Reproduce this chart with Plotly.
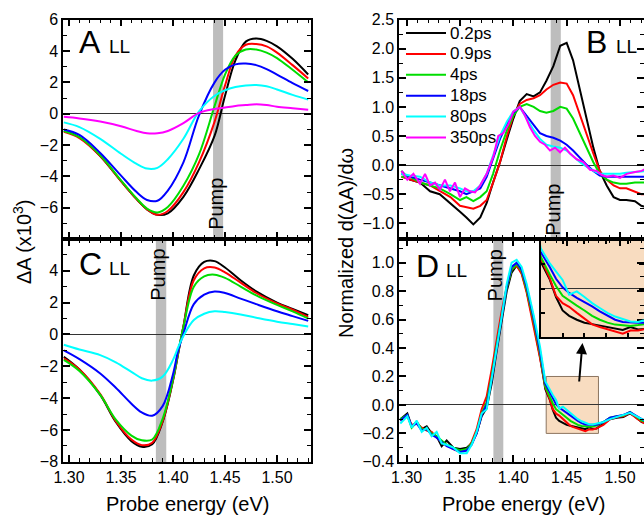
import plotly.graph_objects as go

FONT = "Liberation Sans, Arial, sans-serif"
W, H = 644, 515

COLORS = ["#000000", "#FF0000", "#00DD00", "#0000FF", "#00FFFF", "#FF00FF"]
DELAYS = ["0.2ps", "0.9ps", "4ps", "18ps", "80ps", "350ps"]

# ---------------- Panel A : ΔA (x10^3), top-left ----------------
E_A = [1.295, 1.31, 1.33, 1.35, 1.365, 1.375, 1.385, 1.395, 1.41, 1.425, 1.44, 1.45,
       1.46, 1.47, 1.48, 1.49, 1.50, 1.515, 1.53]
A_02 = [-1.1, -1.5, -2.7, -4.3, -5.45, -6.1, -6.45, -6.35, -5.3, -3.55, -1.4, 1.15, 3.4, 4.6, 4.8, 4.65, 4.3, 3.5, 2.5]
A_09 = [-1.15, -1.55, -2.7, -4.3, -5.45, -6.1, -6.45, -6.2, -5.0, -3.1, -0.5, 1.8, 3.7, 4.4, 4.45, 4.3, 3.9, 3.1, 2.25]
A_4 = [-1.1, -1.5, -2.65, -4.25, -5.4, -6.05, -6.3, -5.95, -4.6, -2.6, 0.5, 2.5, 3.7, 4.1, 4.1, 3.9, 3.55, 2.8, 2.0]
A_18 = [-1.0, -1.35, -2.5, -3.95, -5.0, -5.5, -5.55, -4.9, -3.1, -0.1, 2.0, 2.8, 3.15, 3.2, 3.1, 2.85, 2.5, 1.95, 1.45]
A_80 = [-0.55, -0.85, -1.6, -2.55, -3.2, -3.5, -3.45, -2.9, -1.6, 0.15, 1.15, 1.5, 1.7, 1.8, 1.83, 1.75, 1.55, 1.2, 0.9]
A_350 = [-0.2, -0.3, -0.5, -0.8, -1.1, -1.25, -1.25, -1.1, -0.6, 0.05, 0.3, 0.4, 0.5, 0.55, 0.6, 0.55, 0.45, 0.35, 0.25]

# ---------------- Panel C : ΔA (x10^3), bottom-left ----------------
E_C = [1.295, 1.31, 1.33, 1.345, 1.36, 1.37, 1.38, 1.39, 1.40, 1.405, 1.41, 1.42, 1.43,
       1.44, 1.45, 1.465, 1.48, 1.50, 1.515, 1.53]
C_02 = [-1.4, -2.2, -3.8, -5.5, -6.7, -7.05, -6.9, -5.5, -2.9, -1.2, 0.5, 3.7, 4.55, 4.6, 4.2, 3.4, 2.7, 2.0, 1.6, 1.2]
C_09 = [-1.5, -2.2, -3.75, -5.45, -6.6, -6.95, -6.8, -5.45, -2.85, -1.15, 0.5, 3.4, 4.15, 4.2, 3.9, 3.25, 2.6, 1.95, 1.55, 1.1]
C_4 = [-1.6, -2.3, -3.8, -5.35, -6.35, -6.65, -6.6, -5.3, -2.8, -1.1, 0.45, 3.0, 3.65, 3.75, 3.55, 3.0, 2.45, 1.85, 1.45, 1.0]
C_18 = [-1.0, -1.55, -2.45, -3.35, -4.35, -4.9, -5.1, -4.5, -2.5, -1.0, 0.05, 1.9, 2.5, 2.7, 2.6, 2.25, 1.9, 1.45, 1.15, 0.85]
C_80 = [-0.65, -0.95, -1.3, -1.75, -2.35, -2.75, -2.9, -2.65, -1.6, -0.8, -0.1, 0.9, 1.3, 1.45, 1.4, 1.25, 1.05, 0.8, 0.65, 0.5]

# ---------------- Panel B : normalized derivative, top-right ----------------
E_B = [1.295, 1.303, 1.3125, 1.322, 1.331, 1.341, 1.35, 1.356, 1.3625, 1.369, 1.375, 1.381,
       1.3875, 1.394, 1.40, 1.406, 1.4125, 1.419, 1.425, 1.431, 1.4375, 1.444, 1.45, 1.456,
       1.4625, 1.469, 1.475, 1.481, 1.4875, 1.494, 1.50, 1.506, 1.514, 1.52, 1.525]
B_02 = [-0.1, -0.25, -0.3, -0.45, -0.5, -0.65, -0.8, -0.9, -1.02, -0.9, -0.65, -0.3, 0.05, 0.45, 0.8, 1.1,
        1.22, 1.18, 1.25, 1.45, 1.7, 2.05, 2.1, 1.8, 1.3, 0.75, 0.3, -0.1, -0.35, -0.55, -0.6, -0.6, -0.62, -0.7, -0.72]
B_09 = [-0.2, -0.25, -0.3, -0.35, -0.45, -0.55, -0.7, -0.72, -0.75, -0.7, -0.6, -0.3, 0.05, 0.5, 0.85, 1.05,
        1.12, 1.15, 1.2, 1.3, 1.38, 1.42, 1.4, 1.2, 0.85, 0.5, 0.2, -0.1, -0.25, -0.35, -0.4, -0.4, -0.45, -0.5, -0.5]
B_4 = [-0.2, -0.2, -0.3, -0.35, -0.4, -0.5, -0.6, -0.55, -0.62, -0.55, -0.45, -0.15, 0.25, 0.6, 0.85, 1.0,
       1.05, 1.0, 0.93, 0.9, 0.93, 1.0, 0.97, 0.8, 0.55, 0.3, 0.05, -0.15, -0.25, -0.3, -0.32, -0.32, -0.3, -0.3, -0.3]
B_18 = [-0.15, -0.2, -0.25, -0.3, -0.35, -0.4, -0.45, -0.5, -0.45, -0.4, -0.2, 0.1, 0.45, 0.7, 0.9, 1.0,
        0.85, 0.7, 0.55, 0.5, 0.47, 0.42, 0.35, 0.25, 0.12, 0.0, -0.1, -0.18, -0.2, -0.2, -0.2, -0.2, -0.2, -0.2, -0.2]
B_80 = [-0.15, -0.18, -0.2, -0.3, -0.35, -0.35, -0.4, -0.45, -0.45, -0.35, -0.15, 0.15, 0.5, 0.75, 0.92, 1.0,
        0.8, 0.6, 0.45, 0.35, 0.32, 0.3, 0.25, 0.15, 0.05, -0.03, -0.1, -0.15, -0.15, -0.15, -0.15, -0.13, -0.12, -0.1, -0.1]
E_B350 = [1.2953, 1.3006, 1.3063, 1.3125, 1.3172, 1.3219, 1.3266, 1.3313, 1.3359, 1.3406, 1.3453, 1.35,
          1.3547, 1.3594, 1.3641, 1.3688, 1.375, 1.3813, 1.3859, 1.3906, 1.3953, 1.40, 1.4063, 1.4109,
          1.4156, 1.4203, 1.425, 1.4297, 1.4344, 1.4391, 1.4438, 1.4484, 1.4531, 1.4594, 1.4656, 1.4719,
          1.4781, 1.4828, 1.4875, 1.4938, 1.50, 1.5063, 1.5141, 1.5203, 1.525]
B_350 = [-0.1, -0.25, -0.15, -0.32, -0.15, -0.35, -0.3, -0.42, -0.25, -0.45, -0.3, -0.55, -0.4, -0.45, -0.47,
         -0.35, -0.15, 0.15, 0.5, 0.55, 0.7, 0.92, 1.0, 0.85, 0.65, 0.5, 0.4, 0.35, 0.25, 0.3, 0.22, 0.3,
         0.2, 0.1, 0.05, -0.08, -0.1, -0.17, -0.2, -0.18, -0.22, -0.15, -0.12, -0.1, -0.05]

# ---------------- Panel D : normalized derivative, bottom-right ----------------
E_D = [1.294, 1.3006, 1.3047, 1.3094, 1.3141, 1.3188, 1.3234, 1.3281, 1.3328, 1.3375, 1.3438, 1.35,
       1.3563, 1.3609, 1.3656, 1.3703,
       1.375, 1.3797, 1.3844, 1.3891, 1.3938, 1.3984, 1.4031, 1.4078, 1.4125, 1.4188, 1.425,
       1.43, 1.434, 1.437, 1.44, 1.443, 1.4465, 1.45, 1.4535, 1.457, 1.4605, 1.464, 1.4675, 1.471, 1.4745, 1.478,
       1.4844, 1.4906, 1.4969, 1.5031, 1.5094, 1.5156, 1.5203, 1.525]
D_02 = [-0.1, -0.06, -0.15, -0.12, -0.17, -0.15, -0.2, -0.22, -0.29, -0.25, -0.3, -0.31, -0.3, -0.27, -0.2, -0.08,
        -0.02, 0.15, 0.38, 0.6, 0.8, 0.93, 0.98, 0.93, 0.8, 0.58, 0.34,
        0.11, 0.04, -0.035, -0.09, -0.112, -0.128, -0.14, -0.146, -0.152, -0.158, -0.165, -0.17, -0.158, -0.168, -0.165,
        -0.13, -0.1, -0.09, -0.085, -0.06, -0.09, -0.12, -0.13]
D_09 = [-0.11, -0.08, -0.14, -0.13, -0.16, -0.18, -0.19, -0.23, -0.26, -0.28, -0.31, -0.33, -0.32, -0.26, -0.17, -0.03,
        0.06, 0.25, 0.46, 0.66, 0.83, 0.95, 0.98, 0.92, 0.79, 0.57, 0.33,
        0.125, 0.045, -0.03, -0.06, -0.075, -0.1, -0.125, -0.147, -0.158, -0.167, -0.176, -0.185, -0.172, -0.172, -0.165,
        -0.14, -0.1, -0.085, -0.08, -0.055, -0.095, -0.12, -0.14]
D_4 = [-0.1, -0.07, -0.16, -0.12, -0.17, -0.17, -0.2, -0.22, -0.25, -0.28, -0.3, -0.32, -0.31, -0.27, -0.19, -0.06,
       0.02, 0.2, 0.42, 0.63, 0.82, 0.95, 0.99, 0.94, 0.81, 0.6, 0.36,
       0.13, 0.06, 0.01, -0.03, -0.05, -0.07, -0.09, -0.112, -0.128, -0.14, -0.148, -0.152, -0.154, -0.15, -0.145,
       -0.12, -0.09, -0.08, -0.075, -0.05, -0.085, -0.11, -0.12]
D_18 = [-0.11, -0.07, -0.15, -0.13, -0.18, -0.17, -0.21, -0.23, -0.26, -0.29, -0.31, -0.33, -0.32, -0.28, -0.2, -0.07,
        0.0, 0.18, 0.4, 0.62, 0.83, 0.97, 1.0, 0.95, 0.83, 0.62, 0.38,
        0.15, 0.09, 0.04, 0.005, -0.018, -0.038, -0.055, -0.073, -0.094, -0.112, -0.128, -0.137, -0.14, -0.14, -0.14,
        -0.12, -0.09, -0.08, -0.07, -0.05, -0.08, -0.1, -0.12]
D_80 = [-0.13, -0.08, -0.16, -0.11, -0.19, -0.16, -0.22, -0.19, -0.27, -0.28, -0.3, -0.34, -0.34, -0.28, -0.19, -0.06,
        -0.03, 0.17, 0.4, 0.62, 0.85, 1.0, 1.02, 0.97, 0.85, 0.64, 0.41,
        0.165, 0.105, 0.07, 0.035, -0.025, -0.012, -0.035, -0.06, -0.08, -0.1, -0.115, -0.125, -0.135, -0.137, -0.13,
        -0.12, -0.1, -0.085, -0.07, -0.055, -0.08, -0.1, -0.11]

# pump bands (eV)
PUMP_A = (1.4385, 1.4482)
PUMP_B = (1.4350, 1.4445)
PUMP_C = (1.3835, 1.3935)
PUMP_D = (1.3813, 1.3906)

# ---------------- figure ----------------
fig = go.Figure()


def add_set(E, series, xa, ya, shape="linear"):
    for i, ys in enumerate(series):
        Ei = E[i] if isinstance(E[0], list) else E
        fig.add_trace(go.Scatter(
            x=Ei, y=ys, xaxis=xa, yaxis=ya, mode="lines",
            line=dict(color=COLORS[i], width=2, shape=shape, smoothing=1.0 if shape == "spline" else None),
            name=DELAYS[i], showlegend=False, hoverinfo="skip"))


add_set(E_A, [A_02, A_09, A_4, A_18, A_80, A_350], "x", "y", shape="spline")
add_set([E_B] * 5 + [E_B350], [B_02, B_09, B_4, B_18, B_80, B_350], "x2", "y2")
add_set(E_C, [C_02, C_09, C_4, C_18, C_80], "x3", "y3", shape="spline")
add_set(E_D, [D_02, D_09, D_4, D_18, D_80], "x4", "y4")
add_set(E_D, [D_02, D_09, D_4, D_18, D_80], "x5", "y5")

LX = [63 / W, 311 / W]
RX = [399 / W, 1.0]
TOPY = [1 - 239 / H, 1 - 19.5 / H]
BOTY = [1 - 462 / H, 1 - 239 / H]
INX = [540.7 / W, 1.0]
INY = [1 - 337.3 / H, 1 - 239.7 / H]


def axis(domain, rng, dtick, mdtick, anchor, labels, fmt, tick0=0.0, zero=False, ticklen=7, minor=True):
    d = dict(domain=domain, range=rng, anchor=anchor, automargin=False, showline=True, linecolor="black",
             linewidth=1.5, mirror="ticks", ticks="inside", ticklen=ticklen, tickwidth=1.5,
             tickcolor="black", tickmode="linear", tick0=tick0, dtick=dtick, showgrid=False,
             zeroline=zero, zerolinecolor="#333333", zerolinewidth=1,
             showticklabels=labels, tickformat=fmt,
             tickfont=dict(family=FONT, size=16, color="black"))
    if minor:
        d["minor"] = dict(ticks="inside", ticklen=4, tickwidth=1.2, tickcolor="black",
                          dtick=mdtick, tick0=tick0, showgrid=False)
    return d


XL_RANGE = [1.2942, 1.5327]
XR_RANGE = [1.2928, 1.5225]

fig.update_layout(
    template="none",
    width=W, height=H, autosize=False,
    margin=dict(l=0, r=0, t=0, b=0, pad=0, autoexpand=False),
    paper_bgcolor="white", plot_bgcolor="rgba(0,0,0,0)",
    showlegend=False,
    xaxis=axis(LX, XL_RANGE, 0.05, 0.01, "y", False, ".2f", tick0=1.3),
    yaxis=axis(TOPY, [-7.99, 6.01], 2, 1, "x", True, "d", zero=True),
    xaxis2=axis(RX, XR_RANGE, 0.05, 0.01, "y2", False, ".2f", tick0=1.3),
    yaxis2=axis(TOPY, [-1.27, 2.502], 0.5, 0.25, "x2", True, ".1f", zero=True),
    xaxis3=axis(LX, XL_RANGE, 0.05, 0.01, "y3", True, ".2f", tick0=1.3),
    yaxis3=axis(BOTY, [-8.01, 5.99], 2, 1, "x3", True, "d", zero=True),
    xaxis4=axis(RX, XR_RANGE, 0.05, 0.01, "y4", True, ".2f", tick0=1.3),
    yaxis4=axis(BOTY, [-0.401, 1.166], 0.2, 0.1, "x4", True, ".1f", zero=True),
    xaxis5=axis(INX, [1.43, 1.4772], 0.01, None, "y5", False, ".2f", tick0=1.3, ticklen=5, minor=False),
    yaxis5=axis(INY, [-0.2, 0.2], 0.1, None, "x5", False, ".1f", zero=True, ticklen=5, minor=False),
    font=dict(family=FONT, color="black"),
)

GREY = "#BDBDBD"
shapes = [
    dict(type="rect", xref="x", yref="y domain", x0=PUMP_A[0], x1=PUMP_A[1], y0=0, y1=1,
         fillcolor=GREY, line=dict(width=0), layer="below"),
    dict(type="rect", xref="x2", yref="y2 domain", x0=PUMP_B[0], x1=PUMP_B[1], y0=0, y1=1,
         fillcolor=GREY, line=dict(width=0), layer="below"),
    dict(type="rect", xref="x3", yref="y3 domain", x0=PUMP_C[0], x1=PUMP_C[1], y0=0, y1=1,
         fillcolor=GREY, line=dict(width=0), layer="below"),
    dict(type="rect", xref="x4", yref="y4 domain", x0=PUMP_D[0], x1=PUMP_D[1], y0=0, y1=1,
         fillcolor=GREY, line=dict(width=0), layer="below"),
    # highlighted box in D
    dict(type="rect", xref="x4", yref="y4", x0=1.4308, x1=1.4798, y0=-0.2, y1=0.2,
         fillcolor="#F8DCC0", line=dict(width=1, color="#8C7560"), layer="below"),
    # inset background
    dict(type="rect", xref="x5 domain", yref="y5 domain", x0=0, x1=1, y0=0, y1=1,
         fillcolor="#F8DCC0", line=dict(width=0), layer="below"),
]

ann = []

# legend (panel B), drawn as sample lines + labels
LEG_X0, LEG_X1, LEG_TX = 406, 446, 448
LEG_Y0, LEG_DY = 33, 20.9
for i, name in enumerate(DELAYS):
    yy = 1 - (LEG_Y0 + LEG_DY * i) / H
    shapes.append(dict(type="line", xref="paper", yref="paper", x0=LEG_X0 / W, x1=LEG_X1 / W,
                       y0=yy, y1=yy, line=dict(color=COLORS[i], width=2), layer="above"))
    ann.append(dict(text=name, xref="paper", yref="paper", x=LEG_TX / W, y=yy, xanchor="left",
                    yanchor="middle", showarrow=False, font=dict(family=FONT, size=17, color="black")))

fig.update_layout(shapes=shapes)


def panel_label(letter, px, py_base):
    # big letter and small "LL", baselines aligned at py_base
    ann.append(dict(text=letter, xref="paper", yref="paper", x=px / W, y=1 - (py_base - 11.1) / H,
                    xanchor="left", yanchor="middle", showarrow=False,
                    font=dict(family=FONT, size=32, color="black")))
    ann.append(dict(text="LL", xref="paper", yref="paper", x=(px + 30) / W, y=1 - (py_base - 6.6) / H,
                    xanchor="left", yanchor="middle", showarrow=False,
                    font=dict(family=FONT, size=19, color="black")))


panel_label("A", 77, 53)
panel_label("B", 584, 53)
panel_label("C", 77, 275)
panel_label("D", 414, 277)


def pump(xref, yref, x, y):
    ann.append(dict(text="Pump", xref=xref, yref=yref, x=x, y=y, textangle=-90, showarrow=False,
                    xanchor="center", yanchor="middle", font=dict(family=FONT, size=20, color="black")))


pump("x", "y", 1.4413, -5.75)
pump("x3", "y3", 1.3856, 3.75)
pump("x2", "y2", 1.4376, -0.76)
pump("x4", "y4", 1.3828, 0.91)

ann.append(dict(text="Probe energy (eV)", xref="paper", yref="paper", x=187 / W, y=1 - 504 / H,
                showarrow=False, xanchor="center", yanchor="middle", font=dict(family=FONT, size=20)))
ann.append(dict(text="Probe energy (eV)", xref="paper", yref="paper", x=523 / W, y=1 - 504 / H,
                showarrow=False, xanchor="center", yanchor="middle", font=dict(family=FONT, size=20)))
ann.append(dict(text="ΔA (x10<sup>3</sup>)", xref="paper", yref="paper", x=23 / W, y=1 - 242 / H,
                textangle=-90, showarrow=False, xanchor="center", yanchor="middle", font=dict(family=FONT, size=20)))
ann.append(dict(text="Normalized d(ΔA)/dω", xref="paper", yref="paper", x=346 / W, y=1 - 243 / H,
                textangle=-90, showarrow=False, xanchor="center", yanchor="middle", font=dict(family=FONT, size=20)))
# arrow from box to inset
ann.append(dict(text="", xref="x4", yref="y4", x=1.4648, y=0.435, axref="x4", ayref="y4",
                ax=1.4616, ay=0.154, showarrow=True, arrowhead=2, arrowsize=1.1, arrowwidth=2,
                arrowcolor="black"))
fig.update_layout(annotations=ann)

fig.write_html("out.html", config={"displayModeBar": False},
               post_script=["document.body.style.margin='0';document.body.style.overflow='hidden';"])
